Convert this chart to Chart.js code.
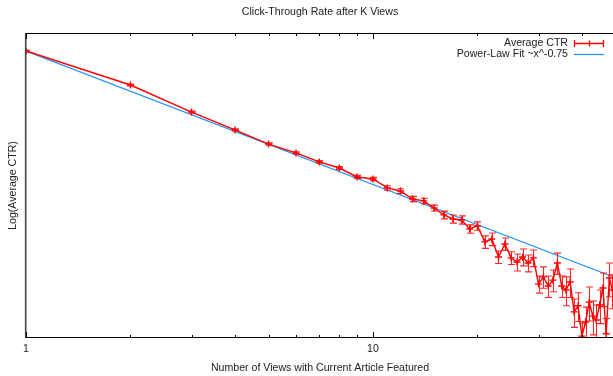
<!DOCTYPE html>
<html>
<head>
<meta charset="utf-8">
<script src="https://cdn.jsdelivr.net/npm/chart.js@4.4.1/dist/chart.umd.min.js"></script>
<style>
  html, body { margin: 0; padding: 0; background: #fff; overflow: hidden; }
  #wrap { width: 640px; height: 376px; }
</style>
</head>
<body>
<div id="wrap"><canvas id="ctrChart" width="640" height="376"></canvas></div>
<script>
// Data
const views = [1, 2, 3, 4, 5, 6, 7, 8, 9, 10,
    11, 12, 13, 14, 15, 16, 17, 18, 19, 20,
    21, 22, 23, 24, 25, 26, 27, 28, 29, 30,
    31, 32, 33, 34, 35, 36, 37, 38, 39, 40,
    41, 42, 43, 44, 45, 46, 47, 48, 49, 50];
const avgCtr = [0.0500, 0.0322, 0.0227, 0.0180, 0.0150, 0.01337, 0.0119, 0.0110, 0.00980, 0.00955,
    0.00850, 0.00817, 0.00737, 0.00719, 0.00656, 0.00600, 0.00569, 0.00562, 0.00500, 0.00520,
    0.00423, 0.00439, 0.00348, 0.00412, 0.00344, 0.00326, 0.00348, 0.00322, 0.00344, 0.00245,
    0.00269, 0.00239, 0.00258, 0.00322, 0.00239, 0.00227, 0.00252, 0.00171, 0.00185, 0.00125,
    0.00150, 0.00194, 0.00162, 0.00154, 0.00187, 0.00233, 0.00129, 0.00265, 0.00227, 0.00200];
const ctrErr = [0.0006, 0.0004, 0.0003, 0.00025, 0.00022, 0.0002, 0.0002, 0.0002, 0.0002, 0.0002,
    0.00025, 0.00025, 0.00025, 0.00025, 0.00025, 0.0003, 0.0003, 0.0003, 0.00027, 0.00028,
    0.00034, 0.00036, 0.00028, 0.00033, 0.00028, 0.00036, 0.00038, 0.00035, 0.00037, 0.00027,
    0.00037, 0.00033, 0.00036, 0.00044, 0.00033, 0.00042, 0.00046, 0.00031, 0.00034, 0.00023,
    0.00032, 0.00042, 0.00035, 0.00033, 0.0004, 0.0005, 0.00028, 0.00057, 0.00049, 0.00043];

// power-law fit ~x^-0.75, end points
const fitViews = [1, 50];
const fitCtr = [0.0500, 0.00266];

const xMajorTicks = [1, 10];
const xMinorTicks = [2, 3, 4, 5, 6, 7, 8, 9, 20, 30, 40, 50];

const RED = '#ff0000';
const BLUE = '#1e90ff';
const FONT = '10.6px "Liberation Sans", Arial, sans-serif';
const TEXT = '#222';

// error bars, frame, ticks, labels and key (gnuplot look)
const gnuplotFrame = {
    id: 'gnuplotFrame',
    afterDatasetsDraw(chart) {
        const { ctx, chartArea: a, scales: { x, y } } = chart;
        ctx.save();
        ctx.beginPath();
        ctx.rect(a.left, a.top, a.right - a.left, a.bottom - a.top);
        ctx.clip();
        ctx.strokeStyle = 'rgba(255,0,0,0.85)';
        ctx.lineWidth = 1.1;
        views.forEach((v, i) => {
            const px = Math.round(x.getPixelForValue(v)) + 0.5;
            const y1 = y.getPixelForValue(avgCtr[i] + ctrErr[i]);
            const y2 = y.getPixelForValue(Math.max(avgCtr[i] - ctrErr[i], 1e-6));
            ctx.beginPath();
            ctx.moveTo(px, y1); ctx.lineTo(px, y2);
            ctx.moveTo(px - 3.5, y1); ctx.lineTo(px + 3.5, y1);
            ctx.moveTo(px - 3.5, y2); ctx.lineTo(px + 3.5, y2);
            ctx.stroke();
        });
        ctx.restore();
    },
    afterDraw(chart) {
        const { ctx, chartArea: a, scales: { x } } = chart;
        ctx.save();

        // border
        ctx.strokeStyle = '#000';
        ctx.lineWidth = 1;
        ctx.strokeRect(a.left - 0.5, a.top + 0.5, a.right - a.left + 1, a.bottom - a.top - 1);
        ctx.strokeStyle = '#444';
        ctx.lineWidth = 1.6;
        ctx.beginPath();
        ctx.moveTo(a.left - 0.3, a.top); ctx.lineTo(a.left - 0.3, a.bottom);
        ctx.stroke();

        // ticks, inward on top and bottom
        ctx.strokeStyle = '#000';
        ctx.lineWidth = 1;
        const tick = (v, len) => {
            const px = Math.round(x.getPixelForValue(v)) + 0.5;
            ctx.beginPath();
            ctx.moveTo(px, a.bottom); ctx.lineTo(px, a.bottom - len);
            ctx.moveTo(px, a.top); ctx.lineTo(px, a.top + len);
            ctx.stroke();
        };
        xMajorTicks.forEach(v => tick(v, 6));
        xMinorTicks.forEach(v => tick(v, 3));

        // tick labels
        ctx.fillStyle = TEXT;
        ctx.font = FONT;
        ctx.textAlign = 'center';
        ctx.textBaseline = 'middle';
        xMajorTicks.forEach(v => {
            ctx.fillText(String(v), x.getPixelForValue(v), a.bottom + 11);
        });

        // titles
        ctx.fillText('Click-Through Rate after K Views', 320, 12);
        ctx.fillText('Number of Views with Current Article Featured', 320, 368);
        ctx.save();
        ctx.translate(13, (a.top + a.bottom) / 2);
        ctx.rotate(-Math.PI / 2);
        ctx.fillText('Log(Average CTR)', 0, 0);
        ctx.restore();

        // key
        ctx.textAlign = 'right';
        ctx.fillText('Average CTR', 568, 43);
        ctx.fillText('Power-Law Fit ~x^-0.75', 568, 54);
        ctx.strokeStyle = RED;
        ctx.lineWidth = 1.3;
        ctx.beginPath();
        ctx.moveTo(574, 43.5); ctx.lineTo(604, 43.5);
        ctx.moveTo(574.5, 40); ctx.lineTo(574.5, 47);
        ctx.moveTo(603.5, 40); ctx.lineTo(603.5, 47);
        ctx.moveTo(589.5, 40.5); ctx.lineTo(589.5, 46.5);
        ctx.stroke();
        ctx.strokeStyle = BLUE;
        ctx.lineWidth = 1.2;
        ctx.beginPath();
        ctx.moveTo(574, 54.5); ctx.lineTo(604, 54.5);
        ctx.stroke();

        ctx.restore();
    }
};

const chart = new Chart(document.getElementById('ctrChart'), {
    type: 'line',
    data: {
        datasets: [
            {
                label: 'Average CTR',
                data: views.map((v, i) => ({ x: v, y: avgCtr[i] })),
                borderColor: RED,
                borderWidth: 1.4,
                pointStyle: 'cross',
                pointRadius: 3.5,
                pointBorderColor: RED,
                pointBorderWidth: 1.4,
                tension: 0,
                fill: false
            },
            {
                label: 'Power-Law Fit ~x^-0.75',
                data: fitViews.map((v, i) => ({ x: v, y: fitCtr[i] })),
                borderColor: BLUE,
                borderWidth: 1.2,
                pointRadius: 0,
                tension: 0,
                fill: false
            }
        ]
    },
    options: {
        responsive: false,
        animation: false,
        devicePixelRatio: 1,
        layout: { padding: { left: 26, top: 33, right: 24.5, bottom: 38 } },
        plugins: {
            legend: { display: false },
            title: { display: false },
            tooltip: { enabled: false }
        },
        scales: {
            x: { type: 'logarithmic', min: 1, max: 50, display: false },
            y: { type: 'logarithmic', min: 0.00122, max: 0.0631, display: false }
        }
    },
    plugins: [gnuplotFrame]
});
</script>
</body>
</html>
